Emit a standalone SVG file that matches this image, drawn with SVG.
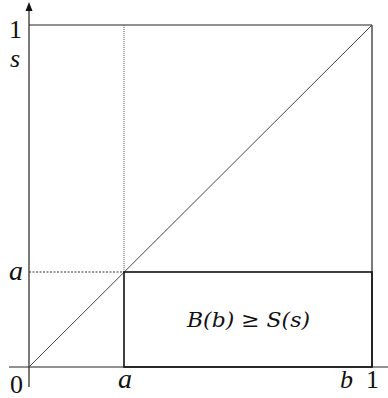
<svg xmlns="http://www.w3.org/2000/svg" width="388" height="398" viewBox="0 0 388 398">
<style>
.ln{stroke:#222;stroke-width:1.2;fill:none}
.thin{stroke:#444;stroke-width:1;fill:none}
.t{font-family:"Liberation Serif","DejaVu Serif",serif;font-size:26px;fill:#111}
.i{font-style:italic}
.f{font-family:"DejaVu Serif","Liberation Serif",serif;font-size:21px;font-style:italic;fill:#111}
</style>
<rect width="388" height="398" fill="#fff"/>
<g id="connectors">
<line class="ln" x1="29" y1="387" x2="29" y2="8"/>
<path d="M29,2 L25.5,11 L32.5,11 Z" fill="#111"/>
<line class="ln" x1="9" y1="367" x2="388" y2="367"/>
<line class="ln" x1="29" y1="25" x2="372" y2="25"/>
<line class="ln" x1="372" y1="25" x2="372" y2="367"/>
<line class="thin" x1="29" y1="367" x2="372" y2="25"/>
<line x1="124" y1="25" x2="124" y2="272" stroke="#555" stroke-width="1" stroke-dasharray="1,1"/>
<line x1="29" y1="272" x2="124" y2="272" stroke="#333" stroke-width="1" stroke-dasharray="2,1.5"/>
</g>
<g id="region">
<rect x="124" y="272" width="248" height="95" fill="none" stroke="#111" stroke-width="1.6"/>
<text class="f" x="187" y="327" textLength="123" lengthAdjust="spacingAndGlyphs">B(b) ≥ S(s)</text>
</g>
<g id="labels">
<text class="t" x="9" y="38">1</text>
<text class="t i" x="10" y="67">s</text>
<text class="t i" x="9" y="280" style="font-size:28px">a</text>
<text class="t" x="10" y="393">0</text>
<text class="t i" x="118" y="388" style="font-size:28px">a</text>
<text class="t i" x="340" y="388">b</text>
<text class="t" x="366" y="388">1</text>
</g>
</svg>
